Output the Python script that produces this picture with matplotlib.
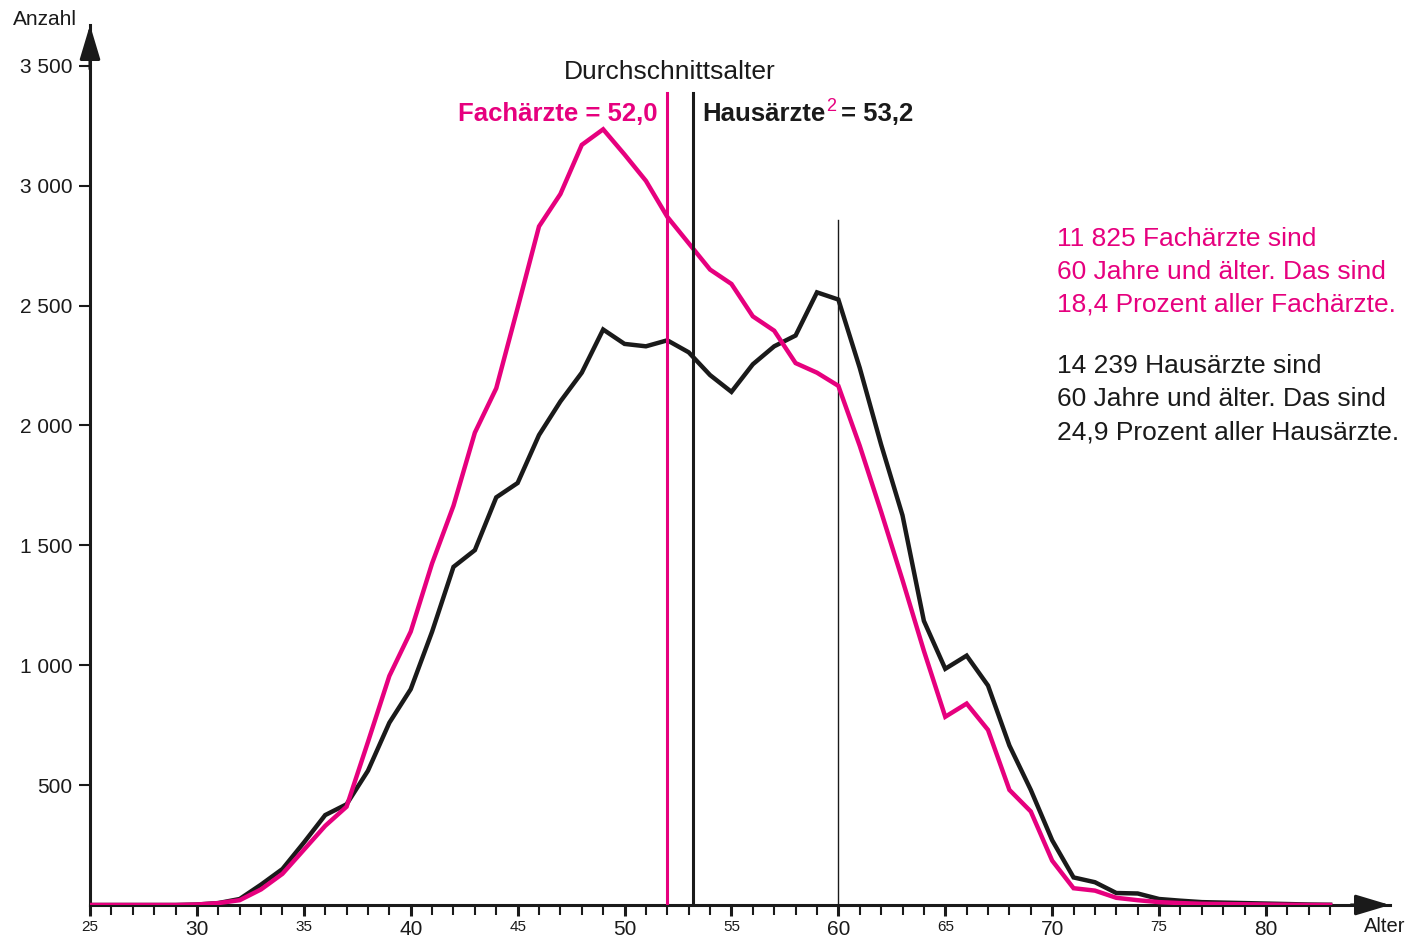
import matplotlib.pyplot as plt
import numpy as np

plt.rcParams['font.family'] = ['Liberation Sans', 'DejaVu Sans']

PINK = '#e6007e'
DARK = '#1a1a1a'

# Alter 25..83
alter = list(range(25, 84))
fachaerzte = [0, 0, 0, 0, 0, 2, 8, 20, 65, 130,
              230, 330, 410, 680, 955, 1140, 1425, 1665, 1970, 2155,
              2490, 2830, 2965, 3170, 3235, 3130, 3020, 2870, 2760, 2650,
              2590, 2455, 2395, 2260, 2220, 2165, 1915, 1640, 1355, 1060,
              785, 840, 730, 480, 390, 185, 70, 60, 30, 20,
              12, 8, 5, 4, 3, 2, 1, 0, 0]
hausaerzte = [0, 0, 0, 0, 0, 2, 8, 25, 85, 150,
              260, 375, 420, 560, 760, 900, 1140, 1410, 1480, 1700,
              1760, 1960, 2100, 2220, 2400, 2340, 2330, 2355, 2305, 2210,
              2140, 2255, 2330, 2375, 2555, 2525, 2240, 1920, 1625, 1185,
              985, 1040, 915, 665, 480, 270, 115, 95, 50, 48,
              25, 18, 12, 10, 8, 6, 4, 2, 1]

mittel_fach = 52.0
mittel_haus = 53.2
ytick_vals = [500, 1000, 1500, 2000, 2500, 3000, 3500]
ytick_labels = ['500', '1 000', '1 500', '2 000', '2 500', '3 000', '3 500']
xtick_vals = list(range(25, 84, 5))

text_fach = ['11 825 Fachärzte sind', '60 Jahre und älter. Das sind', '18,4 Prozent aller Fachärzte.']
text_haus = ['14 239 Hausärzte sind', '60 Jahre und älter. Das sind', '24,9 Prozent aller Hausärzte.']

fig = plt.figure(figsize=(14.12, 9.39), dpi=100)
ax = fig.add_axes([90 / 1412, 1 - 905 / 939, 1300 / 1412, 880 / 939])
ax.set_xlim(25, 85.8)
ax.set_ylim(0, 3670)

ax.plot(alter, hausaerzte, color=DARK, lw=3.2, solid_joinstyle='miter', zorder=3)
ax.plot(alter, fachaerzte, color=PINK, lw=3.2, solid_joinstyle='miter', zorder=4)

# Durchschnittslinien
ax.plot([mittel_fach, mittel_fach], [0, 3387], color=PINK, lw=2.2, zorder=5)
ax.plot([mittel_haus, mittel_haus], [0, 3387], color=DARK, lw=2.2, zorder=5)
ax.plot([60, 60], [0, 2855], color=DARK, lw=1.0, zorder=2)

# Achsen mit Pfeilen
for s in ['top', 'right']:
    ax.spines[s].set_visible(False)
for s in ['left', 'bottom']:
    ax.spines[s].set_linewidth(2.2)
    ax.spines[s].set_color(DARK)
arrow = dict(arrowstyle='-|>,head_length=1.5,head_width=0.45', mutation_scale=14,
             color=DARK, lw=2.2, shrinkA=0, shrinkB=0)
ax.annotate('', xy=(0, 1), xycoords='axes fraction', xytext=(0, 0.95),
            arrowprops=arrow, annotation_clip=False)
ax.annotate('', xy=(1, 0), xycoords='axes fraction', xytext=(0.97, 0),
            arrowprops=arrow, annotation_clip=False)

ax.set_yticks(ytick_vals)
ax.set_yticklabels(ytick_labels, fontsize=15, color=DARK)
ax.tick_params(axis='y', length=8, width=1.5, pad=4.5, color=DARK)

ax.set_xticks(xtick_vals)
ax.set_xticklabels([str(v) for v in xtick_vals])
ax.set_xticks(alter, minor=True)
ax.tick_params(axis='x', which='major', length=8, width=2.2, pad=2.5, color=DARK)
ax.tick_params(axis='x', which='minor', length=7, width=1.5, color=DARK)
for v, lab in zip(xtick_vals, ax.get_xticklabels()):
    lab.set_color(DARK)
    if v % 10 == 0:
        lab.set_fontsize(15)
    else:
        lab.set_fontsize(11)

fig.text(13 / 1412, 1 - 25 / 939, 'Anzahl', fontsize=15, color=DARK, va='baseline')
fig.text(1364 / 1412, 1 - 932 / 939, 'Alter', fontsize=14.5, color=DARK, va='baseline')

# Beschriftung Durchschnittsalter
ax.text(52.13, 3446, 'Durchschnittsalter', fontsize=19, ha='center', va='baseline',
        color=DARK, clip_on=False)
ax.text(51.52, 3271, 'Fachärzte = 52,0', fontsize=18.5, fontweight='bold', color=PINK,
        ha='right', va='baseline', clip_on=False)
t1 = ax.text(53.62, 3271, 'Hausärzte', fontsize=18.5, fontweight='bold', color=DARK,
             ha='left', va='baseline', clip_on=False)
t2 = ax.annotate('2', xy=(1, 0.45), xycoords=t1, xytext=(0.5, 0), textcoords='offset points',
                 fontsize=13, color=PINK, ha='left', va='bottom')
ax.annotate('= 53,2', xy=(1, 0), xycoords=(t2, t1), xytext=(4, 0), textcoords='offset points',
            fontsize=18.5, fontweight='bold', color=DARK, ha='left', va='bottom')

# Texte rechts, eine Zeile je Aufruf
y_fach = [2750, 2612, 2475]
y_haus = [2217, 2079, 1942]
for zeile, yv in zip(text_fach, y_fach):
    ax.text(70.23, yv, zeile, fontsize=19, color=PINK, ha='left', va='baseline', clip_on=False)
for zeile, yv in zip(text_haus, y_haus):
    ax.text(70.23, yv, zeile, fontsize=19, color=DARK, ha='left', va='baseline', clip_on=False)

fig.savefig('out.png', dpi=100)
